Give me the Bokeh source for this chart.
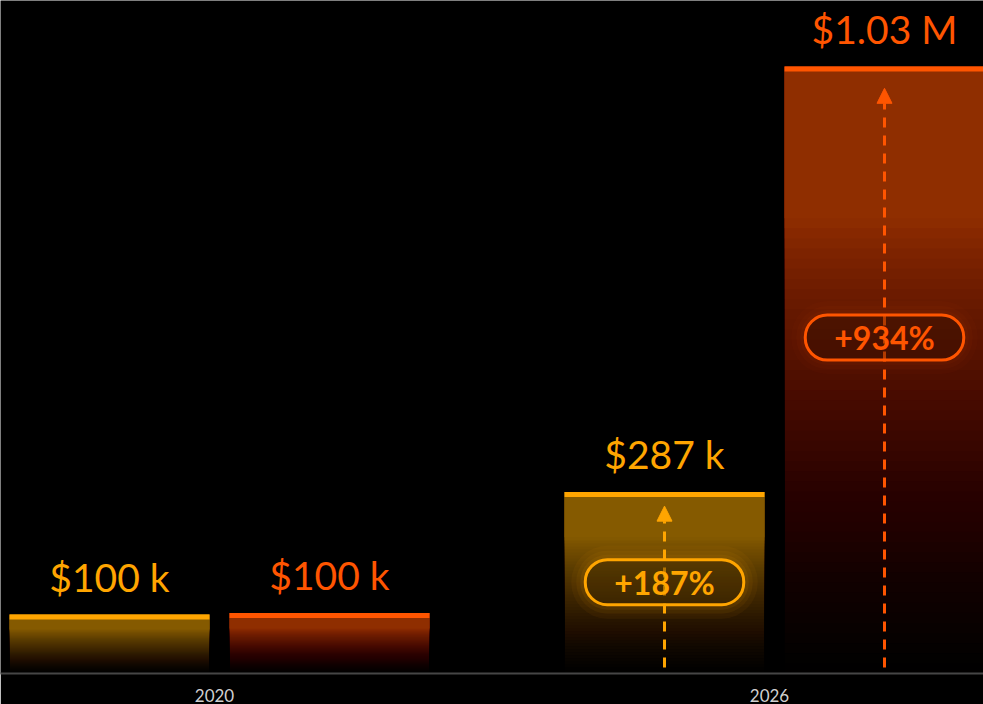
from bokeh.plotting import figure
from bokeh.models import FactorRange, Range1d, ColumnDataSource, Arrow, NormalHead
from bokeh.transform import dodge
from bokeh.core.properties import value
from bokeh.embed import file_html
from bokeh.resources import INLINE

# ---------------- data (thousands of $) ----------------
years = ["2020", "2026"]
series_a_values = [100, 308]
series_b_values = [102.5, 1030]
series_a_labels = ["$100 k", "$287 k"]
series_b_labels = ["$100 k", "$1.03 M"]
series_a_growth = ["", "+187%"]
series_b_growth = ["", "+934%"]
series_a_badge_level = [0, 155]
series_b_badge_level = [0, 570]
series_a_arrow_top = [0, 284]
series_b_arrow_top = [0, 993]

# ---------------- style ----------------
COLOR_A = "#FFA500"
COLOR_B = "#FF5500"
DARK_A = "#855A00"
DARK_B = "#8F2E00"
FONT = "Lato"
W, H = 983, 704
BOTTOM = 30
FRAME_H = H - BOTTOM
Y_MAX = 1142
K_PER_PX = Y_MAX / FRAME_H
OFFSET_A = -0.2453
OFFSET_B = 0.2687
BAR_W = 0.467

p = figure(width=W, height=H,
           x_range=FactorRange(factors=years, factor_padding=0.2967),
           y_range=Range1d(0, Y_MAX),
           output_backend="svg", toolbar_location=None,
           background_fill_color="black", border_fill_color="black",
           outline_line_color=None,
           min_border_left=0, min_border_right=0, min_border_top=0,
           min_border_bottom=BOTTOM)
p.grid.visible = False
p.yaxis.visible = False
ax = p.xaxis[0]
ax.axis_line_color = "#464646"
ax.axis_line_width = 2
ax.major_tick_line_color = None
ax.minor_tick_line_color = None
ax.major_label_text_color = "#d0d0d0"
ax.major_label_text_font = FONT
ax.major_label_text_font_size = "17px"
ax.major_label_standoff = 9


def opacity(t):
    # t: fraction from the top of the bar (0) to its base (1)
    if t < 0.25:
        return 1.0
    return max(0.0, (1 - t) / 0.75) ** 1.1


def draw_series(vals, labels, growth, badge_level, arrow_top, off, color, dark, glow):
    # gradient body built from stacked translucent layers
    N = 60
    xs, bottoms, tops, alphas = [], [], [], []
    for yr, v in zip(years, vals):
        prev = 0.0
        for j in range(N):
            A = opacity(1 - (j + 0.5) / N)
            if prev >= 0.999:
                break
            a = 1 - (1 - A) / (1 - prev) if A < 1 else 1.0
            a = min(max(a, 0.0), 1.0)
            prev = A
            xs.append(yr)
            bottoms.append(v * j / N)
            tops.append(v)
            alphas.append(a)
    body = ColumnDataSource(dict(x=xs, bottom=bottoms, top=tops, alpha=alphas))
    p.vbar(x=dodge("x", off, range=p.x_range), width=BAR_W, bottom="bottom",
           top="top", fill_color=dark, fill_alpha="alpha", line_color=None,
           source=body)

    src = ColumnDataSource(dict(x=years, top=vals,
                                cap=[v - 5 * K_PER_PX for v in vals],
                                label=labels))
    p.vbar(x=dodge("x", off, range=p.x_range), width=BAR_W, bottom="cap",
           top="top", fill_color=color, line_color=None, source=src)
    p.text(x=dodge("x", off, range=p.x_range), y="top", text="label",
           text_align="center", text_baseline="alphabetic", y_offset=-38,
           text_color=color, text_font=value(FONT),
           text_font_size="39px", source=src)

    idx = [i for i, g in enumerate(growth) if g]
    gsrc = ColumnDataSource(dict(
        x=[years[i] for i in idx],
        y=[badge_level[i] for i in idx],
        y0=[6 * K_PER_PX for i in idx],
        y1=[arrow_top[i] for i in idx],
        g=[growth[i] for i in idx]))

    # soft glow around the badge
    for pad, al in [(14, 0.05 * glow), (9, 0.06 * glow), (5, 0.07 * glow)]:
        p.text(x=dodge("x", off, range=p.x_range), y="y", text="g",
               text_align="center", text_baseline="middle",
               text_font=value(FONT), text_font_style="bold",
               text_font_size="32px", text_alpha=0,
               padding=(29 + pad, 3 + pad), border_radius=22 + pad,
               background_fill_color=color, background_fill_alpha=al,
               source=gsrc)

    arrow = Arrow(end=NormalHead(size=15, fill_color=color, line_color=color),
                  x_start=dodge("x", off, range=p.x_range), y_start="y0",
                  x_end=dodge("x", off, range=p.x_range), y_end="y1",
                  line_color=color, line_width=3, line_dash="10 8",
                  source=gsrc)
    p.add_layout(arrow)

    badge = p.text(x=dodge("x", off, range=p.x_range), y="y", text="g",
                   text_align="center", text_baseline="middle",
                   text_color=color, text_font=value(FONT),
                   text_font_style="bold", text_font_size="32px",
                   padding=(29, 3), border_radius=22,
                   background_fill_color="#000000", background_fill_alpha=0.3,
                   border_line_color=color, border_line_width=3,
                   source=gsrc)
    badge.level = "overlay"


draw_series(series_a_values, series_a_labels, series_a_growth,
            series_a_badge_level, series_a_arrow_top, OFFSET_A, COLOR_A, DARK_A, 1.0)
draw_series(series_b_values, series_b_labels, series_b_growth,
            series_b_badge_level, series_b_arrow_top, OFFSET_B, COLOR_B, DARK_B, 0.5)

open("out.html", "w").write(file_html(p, INLINE))
